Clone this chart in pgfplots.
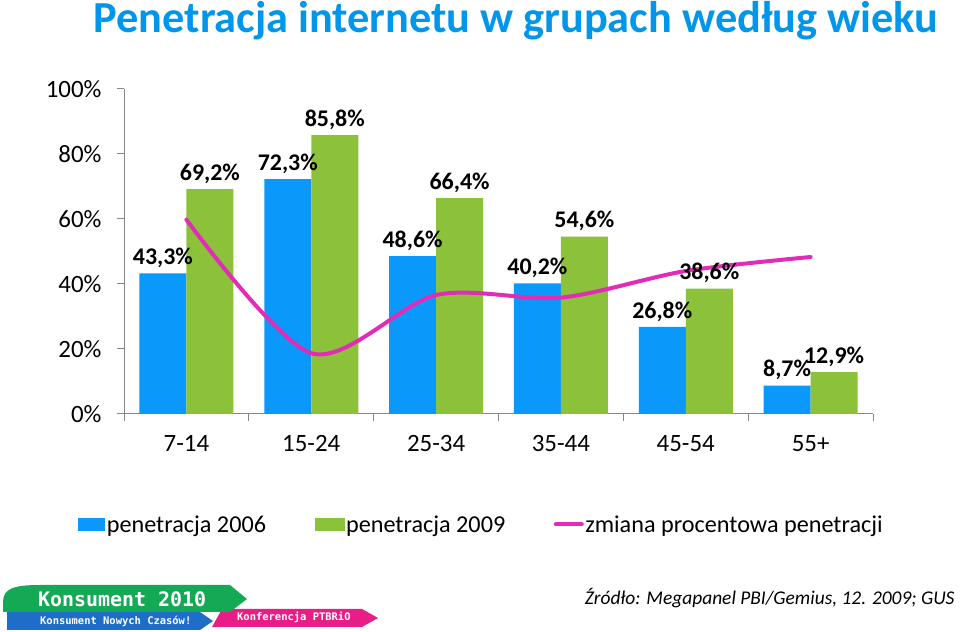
\documentclass[border=0pt]{standalone}
\usepackage{pgfplots}
\pgfplotsset{compat=1.18}
\usepackage{fontspec}
\setmainfont{Carlito}
\newfontfamily\logofont{DejaVu Sans Mono}
\definecolor{ttlblue}{RGB}{0,150,235}
\definecolor{bblue}{RGB}{10,152,250}
\definecolor{bgreen}{RGB}{140,193,58}
\definecolor{lmag}{RGB}{226,44,184}
\definecolor{axgray}{RGB}{134,134,134}
\definecolor{lgreen}{RGB}{20,170,85}
\definecolor{lblue}{RGB}{30,110,200}
\definecolor{lpink}{RGB}{232,30,135}
\begin{document}
\begin{tikzpicture}[x=1bp,y=1bp]
\useasboundingbox (0,0) rectangle (960,632);
\node[anchor=center, text=ttlblue, font=\bfseries\fontsize{44.5}{44.5}\selectfont] at (516,611) {Penetracja internetu w grupach według wieku};
\begin{axis}[
  at={(124bp,218bp)}, anchor=south west,
  scale only axis, width=749bp, height=325bp,
  xmin=-0.5, xmax=5.5, ymin=0, ymax=100,
  axis lines=left, axis line style={-, draw=axgray, line width=1bp},
  tick style={axgray, line width=1bp},
  tick align=outside,
  major tick length=7bp, minor tick length=7bp,
  /pgf/number format/assume math mode=true,
  ytick={0,20,40,60,80,100},
  yticklabel={\pgfmathprintnumber{\tick}\%},
  xtick={0,...,5}, xticklabels={7-14,15-24,25-34,35-44,45-54,55+},
  major x tick style={draw=none},
  minor xtick={-0.5,0.5,...,5.5},
  ticklabel style={font=\fontsize{25}{25}\selectfont, text=black},
  xticklabel style={yshift=-11bp},
  yticklabel style={xshift=-12bp},
  legend columns=3,
  legend cell align=left,
  legend style={at={(0.477,-0.34)}, anchor=center, draw=none, fill=none,
    font=\fontsize{24.3}{24.3}\selectfont,
    nodes={inner sep=1.5bp},
    /tikz/every even column/.append style={column sep=47bp}},
  clip=false,
]
\addplot[ybar, bar width=47bp, bar shift=-23.5bp, fill=bblue, draw=none,
  nodes near coords={\pgfmathprintnumber[fixed,fixed zerofill,precision=1,use comma]{\pgfplotspointmeta}\%},
  nodes near coords style={font=\bfseries\fontsize{24}{24}\selectfont, text=black, anchor=south, yshift=2bp, xshift=-23.5bp},
  point meta=y,
  legend image code/.code={\fill[bblue] (0bp,-6.5bp) rectangle (27bp,6.5bp);}]
coordinates {(0,43.3) (1,72.3) (2,48.6) (3,40.2) (4,26.8) (5,8.7)};
\addlegendentry{penetracja 2006}
\addplot[ybar, bar width=47bp, bar shift=23.5bp, fill=bgreen, draw=none,
  nodes near coords={\pgfmathprintnumber[fixed,fixed zerofill,precision=1,use comma]{\pgfplotspointmeta}\%},
  nodes near coords style={font=\bfseries\fontsize{24}{24}\selectfont, text=black, anchor=south, yshift=2bp, xshift=23.5bp},
  point meta=y,
  legend image code/.code={\fill[bgreen] (0bp,-6.5bp) rectangle (30bp,6.5bp);}]
coordinates {(0,69.2) (1,85.8) (2,66.4) (3,54.6) (4,38.6) (5,12.9)};
\addlegendentry{penetracja 2009}
\addplot[lmag, line width=4bp, smooth, tension=0.5, mark=none, line cap=round,
  legend image code/.code={\draw[lmag, line width=4bp, line cap=round] (2bp,0bp) -- (28bp,0bp);}]
coordinates {(0,59.8) (1,18.7) (2,36.6) (3,35.8) (4,44.0) (5,48.3)};
\addlegendentry{zmiana procentowa penetracji}
\end{axis}
% footer source
\node[anchor=east, font=\itshape\fontsize{19.5}{19.5}\selectfont] at (958,34) {Źródło: Megapanel PBI/Gemius, 12. 2009; GUS};
% logo
\fill[lblue] (7,2) -- (7,20) -- (200,20) -- (213,11) -- (200,2) -- cycle;
\fill[lpink] (222,23) -- (362,23) -- (378,14) -- (362,5) -- (212,5) -- cycle;
\fill[lgreen] (3,20) -- (3,30) .. controls (3,44) and (15,47) .. (40,47) -- (230,47) -- (247,33) -- (230,20) -- cycle;
\node[text=white, font=\logofont\bfseries\fontsize{20}{20}\selectfont, anchor=west, inner sep=0] at (38,33) {Konsument 2010};
\node[text=white, font=\logofont\bfseries\fontsize{10.5}{10.5}\selectfont, anchor=west, inner sep=0] at (40,11) {Konsument Nowych Czasów!};
\node[text=white, font=\logofont\bfseries\fontsize{10.5}{10.5}\selectfont, anchor=west, inner sep=0] at (237,15) {Konferencja PTBRiO};
\end{tikzpicture}
\end{document}
